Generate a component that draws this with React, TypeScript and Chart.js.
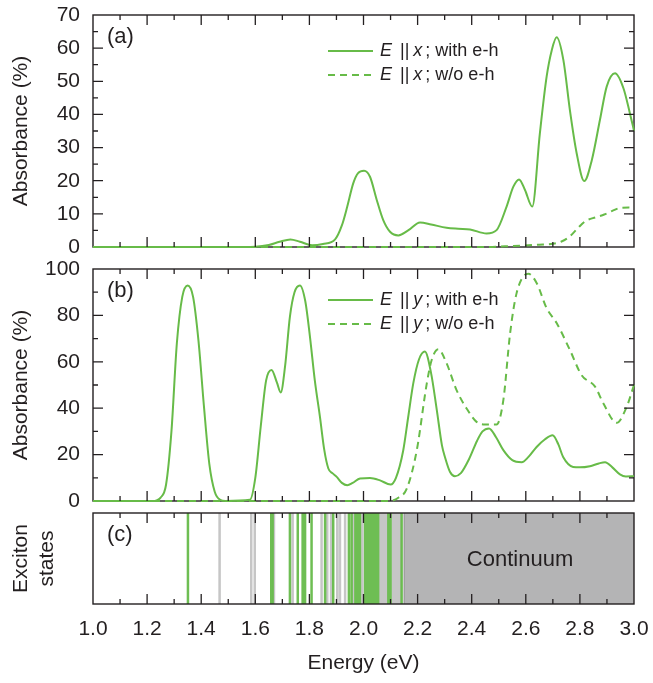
import React, { useEffect, useRef } from 'react';
import { Chart, registerables } from 'chart.js';

Chart.register(...registerables);

const FONT = '"Liberation Sans", Arial, Helvetica, sans-serif';
const INK = '#231f20';
const GREEN = '#67bb48';
const GRAY_LINE = '#c6c6c6';
const CONT_GRAY = '#b4b4b5';

// ---------- Panel (a): E || x ----------
const A_WITH_E = [1.0, 1.5, 1.6, 1.65, 1.69, 1.73, 1.765, 1.81, 1.85, 1.895, 1.92, 1.94, 1.962, 1.98, 2.002, 2.024, 2.049, 2.073, 2.098, 2.129, 2.165, 2.209, 2.25, 2.307, 2.35, 2.394, 2.455, 2.492, 2.529, 2.554, 2.575, 2.597, 2.624, 2.652, 2.677, 2.696, 2.714, 2.739, 2.763, 2.788, 2.816, 2.844, 2.874, 2.899, 2.93, 2.961, 2.985, 3.0];
const A_WITH = [0, 0, 0.1, 0.6, 1.6, 2.3, 1.6, 0.5, 0.9, 2.3, 6.5, 12.2, 19.2, 22.3, 23.0, 21.2, 14.2, 8.1, 4.6, 3.5, 5.0, 7.4, 6.8, 5.8, 5.5, 5.3, 4.1, 5.1, 12.2, 18.2, 20.4, 17.2, 12.2, 34.3, 51.4, 59.4, 63.3, 56.4, 41.3, 28.3, 19.9, 26.2, 38.3, 48.4, 52.4, 47.9, 40.3, 35.1];
const A_WO_E = [1.0, 2.45, 2.55, 2.65, 2.7, 2.73, 2.76, 2.79, 2.82, 2.86, 2.89, 2.92, 2.95, 2.98, 3.0];
const A_WO = [0, 0, 0.3, 0.7, 1.0, 1.6, 3.0, 5.5, 7.8, 9.0, 9.8, 10.9, 11.8, 11.9, 11.8];

// ---------- Panel (b): E || y ----------
const B_WITH_E = [1.0, 1.22, 1.25, 1.27, 1.29, 1.31, 1.33, 1.35, 1.37, 1.39, 1.41, 1.43, 1.45, 1.47, 1.49, 1.58, 1.6, 1.62, 1.64, 1.66, 1.68, 1.694, 1.71, 1.728, 1.745, 1.765, 1.785, 1.802, 1.82, 1.839, 1.855, 1.87, 1.885, 1.901, 1.92, 1.94, 1.96, 1.987, 2.024, 2.061, 2.1, 2.12, 2.147, 2.165, 2.184, 2.205, 2.227, 2.25, 2.271, 2.29, 2.301, 2.32, 2.338, 2.36, 2.39, 2.42, 2.44, 2.464, 2.49, 2.517, 2.55, 2.585, 2.61, 2.64, 2.67, 2.699, 2.72, 2.738, 2.775, 2.8, 2.837, 2.87, 2.893, 2.92, 2.948, 2.97, 3.0];
const B_WITH = [0, 0, 1.5, 7, 30, 68, 88, 92.9, 88, 69, 41, 16, 4, 0.5, 0, 0.5, 10, 32, 52, 56.5, 51, 46.8, 58, 79.5, 90, 92.9, 86, 70.9, 52, 36.3, 22, 14, 12, 10.4, 7.8, 6.8, 7.8, 9.7, 9.9, 8.9, 7.1, 10, 21.9, 36, 50.7, 61, 64.4, 55, 39.2, 24, 19, 12.5, 10.7, 12, 18, 26, 30, 31.3, 27.5, 21.9, 17.6, 16.7, 19, 23.3, 26.5, 28.3, 24.5, 19, 14.7, 14.5, 15, 16.2, 16.7, 14.5, 11.5, 10.6, 10.7];
const B_WO_E = [1.0, 2.098, 2.13, 2.16, 2.197, 2.234, 2.252, 2.277, 2.307, 2.344, 2.381, 2.418, 2.449, 2.492, 2.517, 2.542, 2.566, 2.609, 2.64, 2.677, 2.714, 2.763, 2.806, 2.856, 2.887, 2.936, 2.973, 3.0];
const B_WO = [0, 0, 1.5, 5.3, 21.9, 50.7, 60.8, 65.4, 59.4, 47.8, 39.9, 34.1, 33, 33, 43.5, 72.3, 89.6, 98, 94, 83.1, 76.7, 65.1, 54.3, 49.3, 42, 33.7, 40.6, 50];

// ---------- Panel (c): exciton states ----------
const EXC_BRIGHT = [1.351, 1.659, 1.664, 1.728, 1.757, 1.775, 1.784, 1.808, 1.858, 1.888, 1.946, 1.956, 1.97, 1.978, 1.987, 2.006, 2.014, 2.022, 2.03, 2.038, 2.046, 2.054, 2.092, 2.1, 2.141];
const EXC_DARK = [1.468, 1.585, 1.598, 1.669, 1.738, 1.845, 1.866, 1.88, 1.903, 1.913, 1.932, 1.962, 1.996, 2.062, 2.068, 2.074, 2.08, 2.086, 2.108, 2.114, 2.12, 2.126, 2.132, 2.136];
const CONTINUUM = [2.15, 3.0];

// ---------- Axes ----------
const X_RANGE = [1.0, 3.0];
const X_STEP = 0.2;
const A_Y_RANGE = [0, 70];
const A_Y_STEP = 10;
const B_Y_RANGE = [0, 100];
const B_Y_STEP = 20;

const pairs = (xs: number[], ys: number[]) => xs.map((x, i) => ({ x, y: ys[i] }));
const stems = (es: number[]) => es.flatMap((e) => [{ x: e, y: 0 }, { x: e, y: 1 }, { x: e, y: null as any }]);

function drawFrame(chart: any) {
  const { ctx, chartArea: a } = chart;
  ctx.save();
  ctx.strokeStyle = INK;
  ctx.lineWidth = 1.4;
  ctx.setLineDash([]);
  ctx.strokeRect(a.left, a.top, a.right - a.left, a.bottom - a.top);
  ctx.restore();
}

function drawTicks(chart: any, o: any) {
  const { ctx, chartArea: a, scales } = chart;
  const x = scales.x, y = scales.y;
  ctx.save();
  ctx.strokeStyle = INK;
  ctx.lineWidth = 1.3;
  ctx.setLineDash([]);
  ctx.beginPath();
  const xMinor = X_STEP / 2;
  const nx = Math.round((x.max - x.min) / xMinor);
  for (let i = 1; i < nx; i++) {
    const px = x.getPixelForValue(x.min + i * xMinor);
    const len = i % 2 === 0 ? 10 : 5;
    ctx.moveTo(px, a.top); ctx.lineTo(px, a.top + len);
    ctx.moveTo(px, a.bottom); ctx.lineTo(px, a.bottom - len);
  }
  if (o.yMinor) {
    const ny = Math.round((y.max - y.min) / o.yMinor);
    for (let i = 1; i < ny; i++) {
      const py = y.getPixelForValue(y.min + i * o.yMinor);
      const len = i % 2 === 0 ? 10 : 5;
      ctx.moveTo(a.left, py); ctx.lineTo(a.left + len, py);
      ctx.moveTo(a.right, py); ctx.lineTo(a.right - len, py);
    }
  }
  ctx.stroke();
  ctx.restore();
}

function drawLegend(chart: any, o: any) {
  const { ctx, chartArea: a } = chart;
  o.legend.forEach((item: any, i: number) => {
    const ds = chart.data.datasets[item.ds];
    const yy = a.top + o.legendTop + i * 24;
    ctx.save();
    ctx.strokeStyle = ds.borderColor;
    ctx.lineWidth = ds.borderWidth;
    ctx.setLineDash(ds.borderDash || []);
    ctx.beginPath();
    ctx.moveTo(a.left + 235, yy);
    ctx.lineTo(a.left + 280, yy);
    ctx.stroke();
    ctx.setLineDash([]);
    ctx.fillStyle = INK;
    ctx.textBaseline = 'middle';
    ctx.textAlign = 'left';
    let xx = a.left + 287;
    ctx.font = `italic 18px ${FONT}`;
    ctx.fillText('E', xx, yy);
    xx += ctx.measureText('E').width + 8;
    ctx.font = `18px ${FONT}`;
    ctx.fillText('||', xx, yy);
    xx += ctx.measureText('||').width + 4;
    ctx.font = `italic 18px ${FONT}`;
    ctx.fillText(o.axis, xx, yy);
    xx += ctx.measureText(o.axis).width + 3;
    ctx.font = `18px ${FONT}`;
    ctx.fillText('; ' + item.label, xx, yy);
    ctx.restore();
  });
}

const panelPlugin = {
  id: 'panel',
  beforeDatasetsDraw(chart: any, _args: any, o: any) {
    if (!o.frameOnTop) drawFrame(chart);
  },
  afterDatasetsDraw(chart: any, _args: any, o: any) {
    const { ctx, chartArea: a, scales } = chart;
    if (o.frameOnTop) drawFrame(chart);
    drawTicks(chart, o);
    ctx.save();
    ctx.fillStyle = INK;
    ctx.font = `22px ${FONT}`;
    ctx.textAlign = 'left';
    ctx.textBaseline = 'alphabetic';
    ctx.fillText(o.tag, a.left + 14, a.top + 28);
    if (o.note) {
      ctx.font = `22px ${FONT}`;
      ctx.textAlign = 'center';
      ctx.textBaseline = 'middle';
      const cx = scales.x.getPixelForValue((CONTINUUM[0] + CONTINUUM[1]) / 2);
      ctx.fillText(o.note, cx + 1, (a.top + a.bottom) / 2 + 1);
    }
    ctx.restore();
    if (o.legend) drawLegend(chart, o);
  },
};

const tickFont = { family: FONT, size: 21 };
const titleFont = { family: FONT, size: 21 };

function xScale(show: boolean) {
  const s: any = {
    type: 'linear',
    min: X_RANGE[0],
    max: X_RANGE[1],
    display: show,
    grid: { display: false, drawTicks: false },
    border: { display: false },
    ticks: {
      stepSize: X_STEP,
      padding: 13,
      color: INK,
      font: tickFont,
      maxRotation: 0,
      autoSkip: false,
      callback: (v: any) => Number(v).toFixed(1),
    },
    title: { display: show, text: 'Energy (eV)', color: INK, font: titleFont, padding: { top: 0, bottom: 7 } },
  };
  if (show) {
    s.afterFit = (sc: any) => { sc.height = 79; sc.paddingLeft = 0; sc.paddingRight = 0; };
  }
  return s;
}

function yScale(range: number[], step: number | null, title: any) {
  return {
    type: 'linear',
    min: range[0],
    max: range[1],
    grid: { display: false, drawTicks: false },
    border: { display: false },
    ticks: { display: step !== null, stepSize: step ?? 1, padding: 13, color: INK, font: tickFont },
    title: { display: true, text: title, color: INK, font: titleFont, padding: { top: 9, bottom: 0 } },
    afterFit: (sc: any) => { sc.width = 93; sc.paddingTop = 0; sc.paddingBottom = 0; },
  };
}

const curve = (data: any[], dashed: boolean) => ({
  data,
  borderColor: GREEN,
  borderWidth: 2,
  borderDash: dashed ? [7, 5] : [],
  pointRadius: 0,
  fill: false,
  tension: 0.4,
  cubicInterpolationMode: 'monotone',
  clip: 4,
});

function baseOptions(padding: any, scales: any, panel: any) {
  return {
    responsive: false,
    animation: false,
    devicePixelRatio: 1,
    events: [],
    layout: { padding },
    scales,
    plugins: { legend: { display: false }, tooltip: { enabled: false }, panel },
  };
}

export default function App() {
  const refA = useRef<HTMLCanvasElement>(null);
  const refB = useRef<HTMLCanvasElement>(null);
  const refC = useRef<HTMLCanvasElement>(null);

  useEffect(() => {
    const chartA = new Chart(refA.current as HTMLCanvasElement, {
      type: 'line',
      data: {
        datasets: [
          curve(pairs(A_WITH_E, A_WITH), false),
          curve(pairs(A_WO_E, A_WO), true),
        ],
      },
      options: baseOptions(
        { top: 15, right: 19, bottom: 13, left: 0 },
        { x: xScale(false), y: yScale(A_Y_RANGE, A_Y_STEP, 'Absorbance (%)') },
        {
          tag: '(a)', yMinor: A_Y_STEP / 2, axis: 'x', legendTop: 36,
          legend: [{ ds: 0, label: 'with e-h' }, { ds: 1, label: 'w/o e-h' }],
        }
      ) as any,
      plugins: [panelPlugin],
    } as any);

    const chartB = new Chart(refB.current as HTMLCanvasElement, {
      type: 'line',
      data: {
        datasets: [
          curve(pairs(B_WITH_E, B_WITH), false),
          curve(pairs(B_WO_E, B_WO), true),
        ],
      },
      options: baseOptions(
        { top: 9, right: 19, bottom: 9, left: 0 },
        { x: xScale(false), y: yScale(B_Y_RANGE, B_Y_STEP, 'Absorbance (%)') },
        {
          tag: '(b)', yMinor: B_Y_STEP / 2, axis: 'y', legendTop: 31,
          legend: [{ ds: 0, label: 'with e-h' }, { ds: 1, label: 'w/o e-h' }],
        }
      ) as any,
      plugins: [panelPlugin],
    } as any);

    const chartC = new Chart(refC.current as HTMLCanvasElement, {
      type: 'line',
      data: {
        datasets: [
          { data: stems(EXC_BRIGHT), borderColor: 'rgba(98,184,68,0.92)', borderWidth: 2.5, pointRadius: 0, tension: 0, spanGaps: false },
          { data: stems(EXC_DARK), borderColor: GRAY_LINE, borderWidth: 2.5, pointRadius: 0, tension: 0, spanGaps: false },
          { data: stems([CONTINUUM[0]]), borderColor: '#8c8c8c', borderWidth: 1, pointRadius: 0, tension: 0 },
          {
            data: [{ x: CONTINUUM[0], y: 1 }, { x: CONTINUUM[1], y: 1 }],
            borderWidth: 0, borderColor: CONT_GRAY, backgroundColor: CONT_GRAY,
            pointRadius: 0, fill: 'origin', tension: 0,
          },
        ],
      },
      options: baseOptions(
        { top: 3, right: 19, bottom: 0, left: 0 },
        { x: xScale(true), y: yScale([0, 1], null, ['Exciton', 'states']) },
        { tag: '(c)', frameOnTop: true, yMinor: 0, note: 'Continuum' }
      ) as any,
      plugins: [panelPlugin],
    } as any);

    return () => {
      chartA.destroy();
      chartB.destroy();
      chartC.destroy();
    };
  }, []);

  return (
    <div style={{ position: 'absolute', left: 0, top: 0, width: 653, height: 683, background: '#ffffff' }}>
      <canvas ref={refA} width={653} height={260} style={{ position: 'absolute', left: 0, top: 0 }} />
      <canvas ref={refB} width={653} height={250} style={{ position: 'absolute', left: 0, top: 260 }} />
      <canvas ref={refC} width={653} height={173} style={{ position: 'absolute', left: 0, top: 510 }} />
    </div>
  );
}
